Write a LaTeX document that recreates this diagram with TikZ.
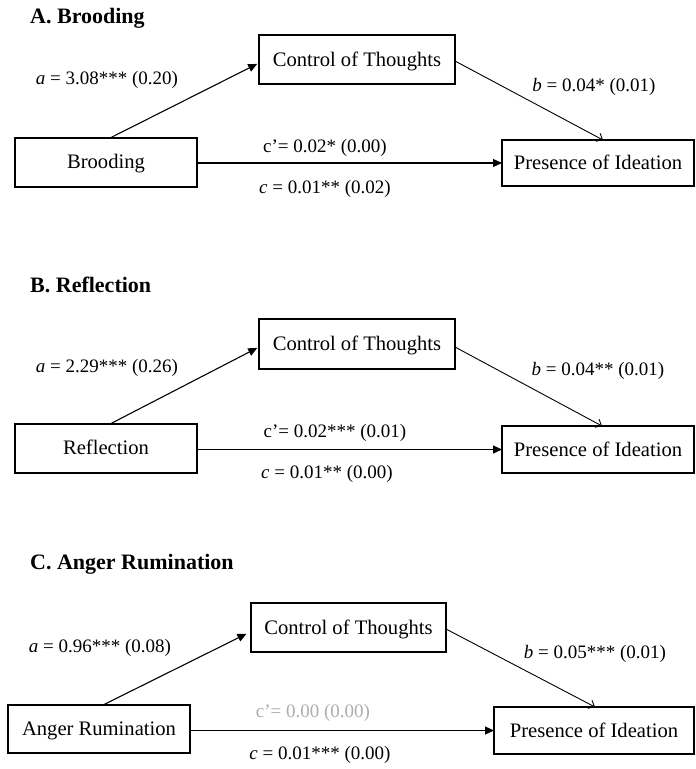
\documentclass[tikz,border=0pt]{standalone}
\usepackage{fontspec}
\setmainfont{Liberation Serif}
\usetikzlibrary{arrows.meta}
\begin{document}
\begin{tikzpicture}[x=1pt,y=-1pt,
  box/.style={draw, line width=2pt, inner sep=0pt, outer sep=0pt, font=\fontsize{20.6}{24}\selectfont, text height=17pt, text depth=3.4pt},
  lbl/.style={font=\fontsize{19}{22}\selectfont, inner sep=0pt},
  ttl/.style={font=\bfseries\fontsize{22}{26}\selectfont, anchor=base west, inner sep=0pt},
  arrA/.style={-{Triangle[length=9pt,width=8pt]}, line width=1.1pt, shorten >=2pt},
  arrB/.style={-{Straight Barb[length=5pt,width=9pt]}, line width=0.9pt},
  faded/.style={text=black!32}
]
\useasboundingbox (0,0) rectangle (696,769);

% ---------- Panel A ----------
\node[ttl] (tA) at (30,23) {A. Brooding};
\node[box, minimum width=196pt, minimum height=49pt] (ctA) at (357,59.5) {Control of Thoughts};
\node[box, minimum width=182pt, minimum height=49pt] (xA) at (106,162) {Brooding};
\node[box, minimum width=192pt, minimum height=46pt] (piA) at (598,163) {Presence of Ideation};
\draw[arrA] ([xshift=5pt]xA.north) -- ([yshift=-3.5pt]ctA.west);
\draw[arrB] ([yshift=-1.5pt]ctA.east) -- ([xshift=5pt]piA.north);
\draw[arrA, shorten >=0pt] (xA.east |- piA.west) -- (piA.west);
\node[lbl] (laA) at (107,80) {\textit{a} = 3.08*** (0.20)};
\node[lbl] (lbA) at (594,87) {\textit{b} = 0.04* (0.01)};
\node[lbl] (lcpA) at (325,148) {c’= 0.02* (0.00)};
\node[lbl] (lcA) at (325,189) {\textit{c} = 0.01** (0.02)};

% ---------- Panel B ----------
\node[ttl] (tB) at (30,292) {B. Reflection};
\node[box, minimum width=196pt, minimum height=50pt] (ctB) at (357,344) {Control of Thoughts};
\node[box, minimum width=182pt, minimum height=49pt] (xB) at (106,448) {Reflection};
\node[box, minimum width=192pt, minimum height=47pt] (piB) at (598,449.5) {Presence of Ideation};
\draw[arrA] ([xshift=5pt]xB.north) -- ([yshift=-3pt]ctB.west);
\draw[arrB] ([yshift=-3pt]ctB.east) -- ([xshift=4pt]piB.north);
\draw[arrA, shorten >=0pt] (xB.east |- piB.west) -- (piB.west);
\node[lbl] (laB) at (107,368) {\textit{a} = 2.29*** (0.26)};
\node[lbl] (lbB) at (598,371) {\textit{b} = 0.04** (0.01)};
\node[lbl] (lcpB) at (335,433) {c’= 0.02*** (0.01)};
\node[lbl] (lcB) at (327,474) {\textit{c} = 0.01** (0.00)};

% ---------- Panel C ----------
\node[ttl] (tC) at (30,569) {C. Anger Rumination};
\node[box, minimum width=195pt, minimum height=49pt] (ctC) at (348.5,627.5) {Control of Thoughts};
\node[box, minimum width=182pt, minimum height=48pt] (xC) at (99,729) {Anger Rumination};
\node[box, minimum width=200pt, minimum height=47pt] (piC) at (594,730.5) {Presence of Ideation};
\draw[arrA, shorten >=5pt] ([xshift=4pt]xC.north) -- ([yshift=-4pt]ctC.west);
\draw[arrB] ([yshift=-1.5pt]ctC.east) -- ([xshift=1pt]piC.north);
\draw[arrA, shorten >=0pt] (xC.east |- piC.west) -- (piC.west);
\node[lbl] (laC) at (100,648) {\textit{a} = 0.96*** (0.08)};
\node[lbl] (lbC) at (595,654) {\textit{b} = 0.05*** (0.01)};
\node[lbl, faded] (lcpC) at (313,713) {c’= 0.00 (0.00)};
\node[lbl] (lcC) at (320,755) {\textit{c} = 0.01*** (0.00)};
\end{tikzpicture}
\end{document}
